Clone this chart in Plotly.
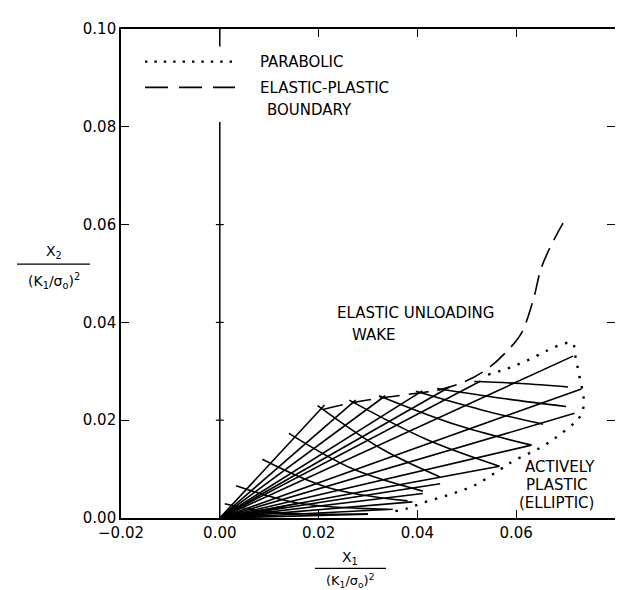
import plotly.graph_objects as go

# ---------------- data ----------------
# elastic-plastic boundary (dashed)
boundary_x = [0.0209, 0.0270, 0.0330, 0.0405, 0.0448, 0.0496, 0.0543, 0.0583, 0.0610, 0.0634, 0.0651, 0.0678, 0.0702]
boundary_y = [0.0222, 0.0236, 0.0246, 0.0256, 0.0263, 0.0279, 0.0306, 0.0343, 0.0377, 0.0444, 0.0512, 0.0572, 0.0616]

# parabolic boundary (dotted)
parab_x = [0.0543, 0.0583, 0.0624, 0.0664, 0.0698, 0.0714, 0.0720, 0.0728, 0.0735, 0.0737, 0.0732, 0.0718,
           0.0685, 0.0651, 0.0597, 0.0570, 0.0516, 0.0462, 0.0408, 0.0381, 0.0351]
parab_y = [0.0293, 0.0306, 0.0323, 0.0343, 0.0357, 0.0358, 0.0330, 0.0290, 0.0256, 0.0236, 0.0212, 0.0195,
           0.0168, 0.0145, 0.0118, 0.0101, 0.0067, 0.0047, 0.0030, 0.0020, 0.0013]

# rising characteristic lines (fan from the crack tip) : end points
rise_end_x = [0.0212, 0.0275, 0.0335, 0.0410, 0.0465, 0.0528, 0.0715, 0.0732, 0.0718, 0.0631, 0.0566,
              0.0446, 0.0411, 0.0390, 0.0350, 0.0300, 0.0160, 0.0130, 0.0110, 0.0095, 0.0085]
rise_end_y = [0.0231, 0.0241, 0.0250, 0.0260, 0.0268, 0.0280, 0.0331, 0.0264, 0.0214, 0.0149, 0.0106,
              0.0070, 0.0050, 0.0033, 0.0018, 0.0008, 0.0030, 0.0022, 0.0013, 0.0006, 0.0003]

# descending characteristic lines : start / middle / end points
fall_x = [
    [0.0515, 0.0610, 0.0705],
    [0.0440, 0.0570, 0.0701],
    [0.0397, 0.0530, 0.0654],
    [0.0322, 0.0480, 0.0631],
    [0.0262, 0.0420, 0.0566],
    [0.0198, 0.0330, 0.0446],
    [0.0140, 0.0270, 0.0411],
    [0.0086, 0.0220, 0.0380],
    [0.0033, 0.0160, 0.0340],
    [0.0010, 0.0100, 0.0300],
]
fall_y = [
    [0.0279, 0.0275, 0.0268],
    [0.0265, 0.0245, 0.0228],
    [0.0259, 0.0221, 0.0192],
    [0.0250, 0.0190, 0.0149],
    [0.0241, 0.0160, 0.0106],
    [0.0230, 0.0140, 0.0084],
    [0.0173, 0.0100, 0.0055],
    [0.0120, 0.0062, 0.0035],
    [0.0066, 0.0030, 0.0018],
    [0.0029, 0.0012, 0.0008],
]

x_ticks = [-0.02, 0.00, 0.02, 0.04, 0.06, 0.08]
y_ticks = [0.00, 0.02, 0.04, 0.06, 0.08, 0.10]

# ---------------- figure ----------------
W, H = 623, 590
L, R, T, B = 113, 16, 15, 80
pw, ph = W - L - R, H - T - B


def px(xp):
    return (xp - L) / pw


def py(yp):
    return (H - B - yp) / ph


FONT = "DejaVu Sans"
fig = go.Figure()

# rising lines
rx, ry = [], []
for ex, ey in zip(rise_end_x, rise_end_y):
    rx += [0.0, ex, None]
    ry += [0.0, ey, None]
fig.add_trace(go.Scatter(x=rx, y=ry, mode="lines", line=dict(color="black", width=1.6),
                         hoverinfo="skip", showlegend=False))

# falling lines
fx, fy = [], []
for xs, ys in zip(fall_x, fall_y):
    fx += xs + [None]
    fy += ys + [None]
fig.add_trace(go.Scatter(x=fx, y=fy, mode="lines", line=dict(color="black", width=1.6, shape="spline"),
                         hoverinfo="skip", showlegend=False))

# boundaries
fig.add_trace(go.Scatter(x=boundary_x, y=boundary_y, mode="lines",
                         line=dict(color="black", width=1.6, dash="20px,9px", shape="spline"),
                         hoverinfo="skip", showlegend=False))
fig.add_trace(go.Scatter(x=parab_x, y=parab_y, mode="lines",
                         line=dict(color="black", width=2.4, dash="2.4px,8px", shape="spline"),
                         hoverinfo="skip", showlegend=False))

shapes = []
# x = 0 line with cross ticks
shapes.append(dict(type="line", xref="x", yref="y", x0=0, x1=0, y0=0, y1=0.081,
                   line=dict(color="black", width=1.5)))
shapes.append(dict(type="line", xref="x", yref="y", x0=0, x1=0, y0=0.1, y1=0.0964,
                   line=dict(color="black", width=1.5)))
for yt in [0.02, 0.04, 0.06]:
    shapes.append(dict(type="line", xref="x", yref="y", x0=-0.0008, x1=0.0008, y0=yt, y1=yt,
                       line=dict(color="black", width=1.2)))

# legend samples
shapes.append(dict(type="line", xref="paper", yref="paper", x0=px(137), x1=px(227), y0=py(48), y1=py(48),
                   line=dict(color="black", width=2.4, dash="2.4px,7px")))
shapes.append(dict(type="line", xref="paper", yref="paper", x0=px(137), x1=px(227), y0=py(74), y1=py(74),
                   line=dict(color="black", width=1.8, dash="23px,11px")))

# fraction bars of axis titles
shapes.append(dict(type="line", xref="paper", yref="paper", x0=px(9), x1=px(82), y0=py(253), y1=py(253),
                   line=dict(color="black", width=1.2)))
shapes.append(dict(type="line", xref="paper", yref="paper", x0=px(307), x1=px(378), y0=py(561), y1=py(561),
                   line=dict(color="black", width=1.2)))

annotations = []


def txt(s, xp, yp, anchor="left", size=15):
    annotations.append(dict(text=s, xref="paper", yref="paper", x=px(xp), y=py(yp), xanchor=anchor,
                            yanchor="middle", showarrow=False, font=dict(family=FONT, size=size, color="black")))


txt("PARABOLIC", 250, 48)
txt("ELASTIC-PLASTIC", 250, 75)
txt("BOUNDARY", 257, 97)
txt("ELASTIC UNLOADING", 327, 302)
txt("WAKE", 342, 325)
txt("ACTIVELY", 515, 458)
txt("PLASTIC", 516, 477)
txt("(ELLIPTIC)", 509, 495)
txt("X<sub>2</sub>", 46, 241, anchor="center", size=14)
txt("(K<sub>1</sub>/σ<sub>o</sub>)<sup>2</sup>", 46, 270, anchor="center", size=14)
txt("X<sub>1</sub>", 342, 550, anchor="center", size=14)
txt("(K<sub>1</sub>/σ<sub>o</sub>)<sup>2</sup>", 342, 574, anchor="center", size=13)

axis_common = dict(showgrid=False, zeroline=False, showline=True, linecolor="black", linewidth=1.6,
                   mirror="ticks", ticks="inside", ticklen=8, tickwidth=1.4, tickcolor="black",
                   tickfont=dict(family=FONT, size=15, color="black"), tickformat=".2f")

fig.update_layout(
    width=W, height=H,
    margin=dict(l=L, r=R, t=T, b=B),
    paper_bgcolor="white", plot_bgcolor="white",
    xaxis=dict(range=[-0.02, 0.08], tickvals=x_ticks, **axis_common),
    yaxis=dict(range=[0, 0.10], tickvals=y_ticks, **axis_common),
    shapes=shapes, annotations=annotations, showlegend=False,
)

fig.write_html("out.html")
